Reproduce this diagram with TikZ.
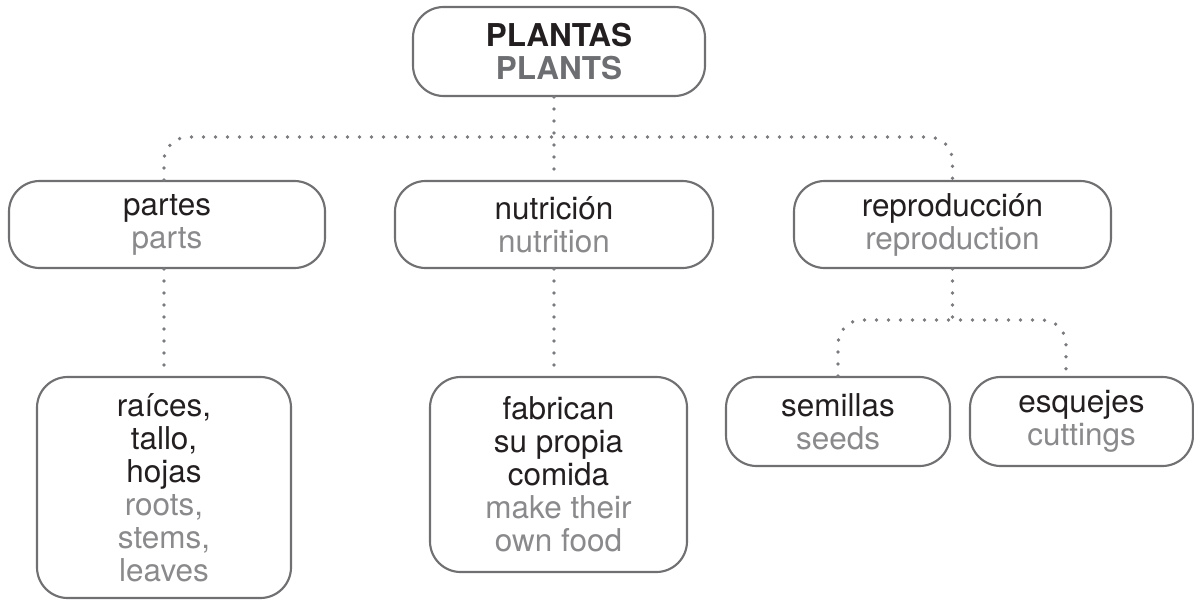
\documentclass[tikz,border=0pt]{standalone}
\usepackage{fontspec}
\setmainfont{TeX Gyre Heros}
\definecolor{escol}{HTML}{231F20}
\definecolor{encol}{HTML}{8A8A8C}
\definecolor{boldgray}{HTML}{6D6E71}
\definecolor{boxcol}{HTML}{707072}
\definecolor{dotcol}{HTML}{7A7B7E}
\newcommand\tES[1]{{\color{escol}#1}}
\newcommand\tEN[1]{{\color{encol}#1}}
\begin{document}
\begin{tikzpicture}[x=0.75pt,y=-0.75pt,
  box/.style={draw=boxcol, line width=1.6pt, rounded corners=23pt, inner sep=0pt,
    align=center, font=\fontsize{23.6pt}{24.75pt}\selectfont},
  dots/.style={draw=dotcol, line width=2.8pt, line cap=round,
    dash pattern=on 0pt off 9pt, rounded corners=18pt}]
\useasboundingbox (0,0) rectangle (1194,600);

\node[box, minimum width=219pt, minimum height=66.75pt] (top) at (559,51.5)
  {\bfseries\tES{PLANTAS}\\\bfseries{\color{boldgray}PLANTS}};
\node[box, minimum width=237pt, minimum height=65.25pt] (partes) at (167,224.5)
  {\tES{partes}\\\tEN{parts}};
\node[box, minimum width=238.5pt, minimum height=65.25pt] (nut) at (554,224.5)
  {\tES{nutrición}\\\tEN{nutrition}};
\node[box, minimum width=237.75pt, minimum height=65.25pt] (rep) at (952.5,224.5)
  {\tES{reproducción}\\\tEN{reproduction}};
\node[box, minimum width=190.5pt, minimum height=165.75pt] (rai) at (164,487.5)
  {\tES{raíces,}\\\tES{tallo,}\\\tES{hojas}\\\tEN{roots,}\\\tEN{stems,}\\\tEN{leaves}};
\node[box, minimum width=192.75pt, minimum height=146.25pt] (fab) at (558.5,474.5)
  {\tES{fabrican}\\\tES{su propia}\\\tES{comida}\\\tEN{make their}\\\tEN{own food}};
\node[box, minimum width=168pt, minimum height=66.75pt] (sem) at (838,421.5)
  {\tES{semillas}\\\tEN{seeds}};
\node[box, minimum width=167.25pt, minimum height=66.75pt] (esq) at (1081.5,421.5)
  {\tES{esquejes}\\\tEN{cuttings}};

\coordinate (bus) at (0,137);
\coordinate (bus2) at (0,320);
\coordinate (esqin) at ([xshift=-11.6pt]esq.north);

\draw[dots] (top.south -| nut.north) -- (nut.north);
\draw[dots] (rai.north |- partes.north) |- (rep.north |- bus) -- (rep.north);
\draw[dots] (partes.south -| rai.north) -- (rai.north);
\draw[dots] (nut.south) -- (nut.south |- fab.north);
\draw[dots] (rep.south) -- (rep.south |- bus2);
\draw[dots] (sem.north) |- (esqin |- bus2) -- (esqin);
\end{tikzpicture}
\end{document}
